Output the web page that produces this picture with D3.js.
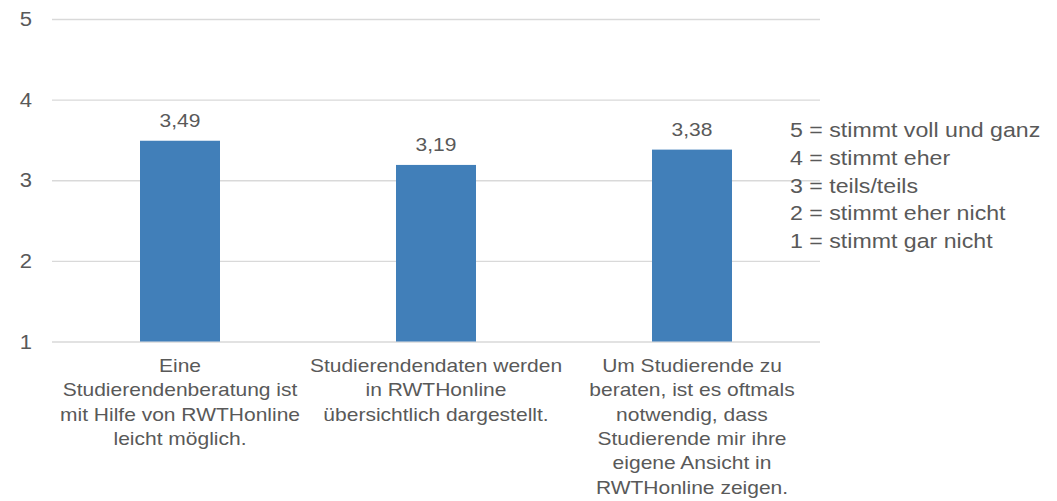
<!DOCTYPE html>
<html>
<head>
<meta charset="utf-8">
<script src="https://cdn.jsdelivr.net/npm/d3@7"></script>
<style>
  html, body { margin: 0; padding: 0; background: #fff; }
  svg text { font-family: "Liberation Sans", Arial, sans-serif; fill: #595959; }
</style>
</head>
<body>
<svg id="graph" width="1057" height="501"></svg>
<script>
// category labels, already broken into lines as in the picture
const categories = [
  [ "Eine", "Studierendenberatung ist", "mit Hilfe von RWTHonline", "leicht möglich." ],
  [ "Studierendendaten werden", "in RWTHonline", "übersichtlich dargestellt." ],
  [ "Um Studierende zu", "beraten, ist es oftmals", "notwendig, dass", "Studierende mir ihre", "eigene Ansicht in", "RWTHonline zeigen." ],
];
const values = [ 3.49, 3.19, 3.38 ];
const yTicks = [ 1, 2, 3, 4, 5 ];
const legendLines = [
  "5 = stimmt voll und ganz",
  "4 = stimmt eher",
  "3 = teils/teils",
  "2 = stimmt eher nicht",
  "1 = stimmt gar nicht",
];

const graph = d3.select( "#graph" );
const MARGINS = {
  top   : 19,
  right : 237,
  bottom: 159.5,
  left  : 52,
};
const WIDTH = 1057;
const HEIGHT = 501;
const SX = 1.13; // text in the picture is a bit stretched sideways
const fmt = v => d3.format( ".2f" )( v ).replace( ".", "," );

const xRange = d3.scaleBand()
  .domain( d3.range( categories.length ) )
  .range( [ MARGINS.left, WIDTH - MARGINS.right ] )
  .paddingInner( 0.6875 )
  .paddingOuter( 0.34375 );
const yRange = d3.scaleLinear()
  .domain( [ 1, 5 ] )
  .range( [ HEIGHT - MARGINS.bottom, MARGINS.top ] );

// gridlines
const yAxis = d3.axisLeft( yRange )
  .tickValues( yTicks )
  .tickSize( -( WIDTH - MARGINS.right - MARGINS.left ) )
  .tickFormat( "" );
graph.append( "g" )
  .attr( "class", "y grid" )
  .attr( "transform", `translate(${MARGINS.left},0)` )
  .call( yAxis )
  .call( g => g.select( ".domain" ).remove() )
  .call( g => g.selectAll( ".tick line" ).attr( "stroke", "#d9d9d9" ).attr( "stroke-width", 1.3 ) );

// y tick labels
graph.append( "g" )
  .selectAll( "text" )
  .data( yTicks )
  .join( "text" )
  .attr( "transform", d => `translate(32,${yRange( d ) + 7}) scale(${SX},1)` )
  .attr( "text-anchor", "end" )
  .style( "font-size", "19.5px" )
  .text( d => d );

// bars
graph.append( "g" )
  .selectAll( "rect" )
  .data( values )
  .join( "rect" )
  .attr( "x", ( d, i ) => xRange( i ) )
  .attr( "y", d => yRange( d ) )
  .attr( "width", xRange.bandwidth() )
  .attr( "height", d => yRange( 1 ) - yRange( d ) )
  .attr( "fill", "#417fb9" );

// value labels
graph.append( "g" )
  .selectAll( "text" )
  .data( values )
  .join( "text" )
  .attr( "transform", ( d, i ) => `translate(${xRange( i ) + xRange.bandwidth() / 2},${yRange( d ) - 14}) scale(${SX},1)` )
  .attr( "text-anchor", "middle" )
  .style( "font-size", "18.6px" )
  .text( d => fmt( d ) );

// category labels
const cats = graph.append( "g" )
  .selectAll( "g" )
  .data( categories )
  .join( "g" )
  .attr( "transform", ( d, i ) => `translate(${xRange( i ) + xRange.bandwidth() / 2},0)` );
cats.selectAll( "text" )
  .data( d => d )
  .join( "text" )
  .attr( "transform", ( d, j ) => `translate(0,${yRange( 1 ) + 30.5 + j * 24.3}) scale(${SX},1)` )
  .attr( "text-anchor", "middle" )
  .style( "font-size", "18.6px" )
  .text( d => d );

// legend text
graph.append( "g" )
  .selectAll( "text" )
  .data( legendLines )
  .join( "text" )
  .attr( "transform", ( d, i ) => `translate(790,${137 + i * 27.8}) scale(${SX},1)` )
  .style( "font-size", "20.5px" )
  .text( d => d );
</script>
</body>
</html>
